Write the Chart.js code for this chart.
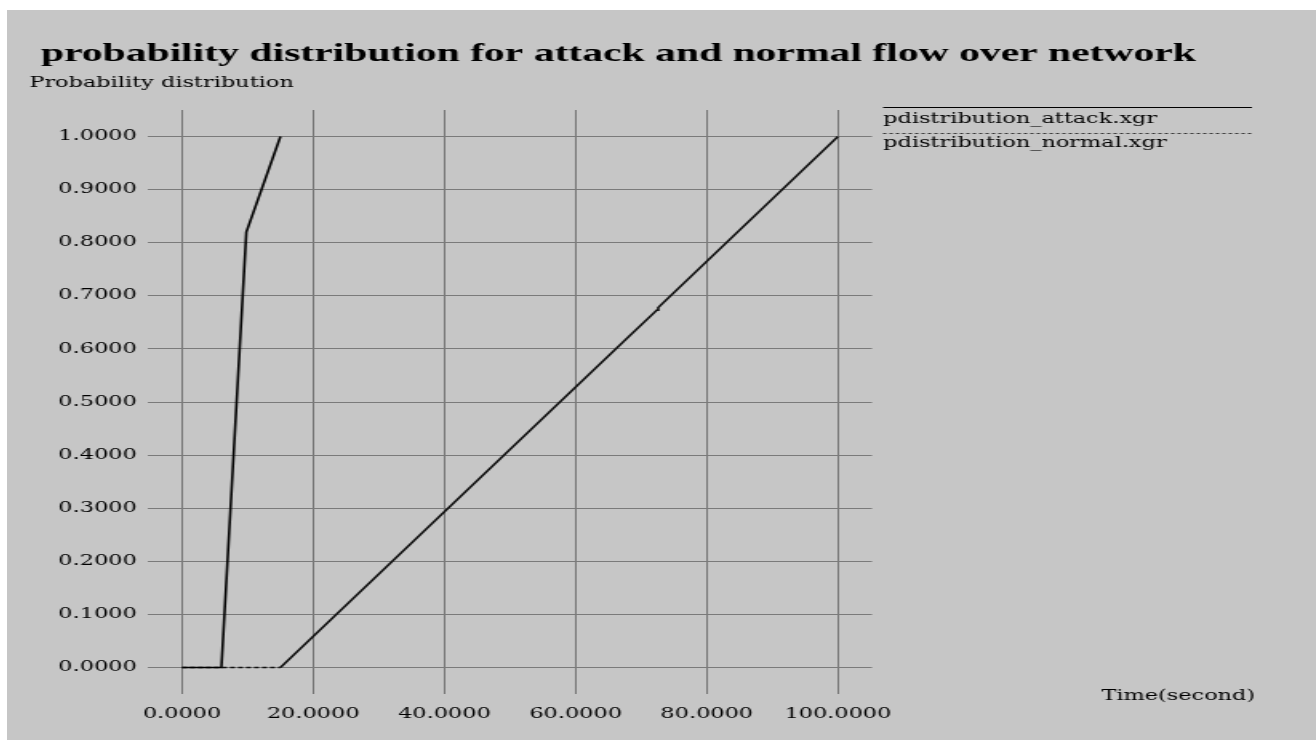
<!DOCTYPE html>
<html>
<head>
<meta charset="utf-8">
<script src="https://cdn.jsdelivr.net/npm/chart.js@4/dist/chart.umd.min.js"></script>
<style>
  html, body { margin: 0; padding: 0; background: #ffffff; width: 1316px; height: 740px; overflow: hidden; }
  #c { position: absolute; left: 7px; top: 10px; background: #c6c6c6; }
</style>
</head>
<body>
<canvas id="c" width="818" height="730" style="width:1309px;height:730px;"></canvas>
<script>
// ---- data ----
const titleText = 'probability distribution for attack and normal flow over network';
const yTitle = 'Probability distribution';
const xTitle = 'Time(second)';
const seriesLabels = ['pdistribution_attack.xgr', 'pdistribution_normal.xgr'];

const attackX = [0, 6, 9.8, 15];
const attackY = [0, 0, 0.82, 1.0];

const normalX = [0, 15, 68, 72.4, 72.6, 100];
const normalY = [0, 0, 0.622, 0.673, 0.678, 1.0];

const xTickValues = [0, 20, 40, 60, 80, 100];
const yTickValues = [0, 0.1, 0.2, 0.3, 0.4, 0.5, 0.6, 0.7, 0.8, 0.9, 1.0];

// ---- helpers ----
const toPts = (xs, ys) => xs.map((x, i) => ({ x: x, y: ys[i] }));
const smallFont = '14px "DejaVu Serif"';

const textPlugin = {
  id: 'texts',
  afterDraw(chart) {
    const ctx = chart.ctx;
    ctx.save();
    ctx.fillStyle = '#000';
    // title
    ctx.font = 'bold 26px "Liberation Serif"';
    ctx.textAlign = 'left';
    ctx.textBaseline = 'alphabetic';
    ctx.fillText(titleText, 21.2, 51);
    // y axis title
    ctx.font = smallFont;
    ctx.fillText(yTitle, 14, 77);
    // x axis title
    ctx.textAlign = 'right';
    ctx.textBaseline = 'middle';
    ctx.fillText(xTitle, 780, 686);
    // legend
    const x0 = 547.5, x1 = 778;
    const ds = chart.data.datasets;
    ctx.textAlign = 'left';
    ctx.lineWidth = 1;
    ctx.strokeStyle = '#000';
    ctx.setLineDash([]);
    ctx.beginPath(); ctx.moveTo(x0, 97.5); ctx.lineTo(x1, 97.5); ctx.stroke();
    ctx.fillText(ds[0].label, x0, 109);
    ctx.strokeStyle = '#333';
    ctx.setLineDash([2, 2]);
    ctx.beginPath(); ctx.moveTo(x0, 123.5); ctx.lineTo(x1, 123.5); ctx.stroke();
    ctx.setLineDash([]);
    ctx.fillText(ds[1].label, x0, 133);
    ctx.restore();
  }
};

new Chart(document.getElementById('c'), {
  type: 'line',
  data: {
    datasets: [
      {
        label: seriesLabels[0],
        data: toPts(attackX, attackY),
        borderColor: '#000',
        borderWidth: 1.6,
        pointRadius: 0,
        tension: 0,
        order: 0
      },
      {
        label: seriesLabels[1],
        data: toPts(normalX, normalY),
        borderColor: '#111',
        borderWidth: 1.6,
        pointRadius: 0,
        tension: 0,
        order: 1,
        segment: {
          borderDash: c => (c.p0.parsed.y === c.p1.parsed.y ? [3, 2] : undefined)
        }
      }
    ]
  },
  options: {
    responsive: false,
    animation: false,
    devicePixelRatio: 1,
    layout: { padding: { left: 0, top: 100, right: 277.4, bottom: 0 } },
    plugins: {
      legend: { display: false },
      title: { display: false },
      tooltip: { enabled: false }
    },
    scales: {
      x: {
        type: 'linear',
        min: -5.2,
        max: 105.2,
        afterBuildTicks: s => { s.ticks = xTickValues.map(v => ({ value: v })); },
        afterFit: s => { s.height = 46; },
        grid: { color: '#737373', lineWidth: 1, drawTicks: false },
        border: { display: false },
        ticks: {
          color: '#000',
          font: { family: 'DejaVu Serif', size: 14 },
          padding: 12,
          maxRotation: 0,
          autoSkip: false,
          callback: v => Number(v).toFixed(4)
        }
      },
      y: {
        type: 'linear',
        min: -0.05,
        max: 1.05,
        afterBuildTicks: s => { s.ticks = yTickValues.map(v => ({ value: v })); },
        afterFit: s => { s.width = 88.1; },
        grid: { color: '#7a7a7a', lineWidth: 1, drawTicks: false },
        border: { display: false },
        ticks: {
          color: '#000',
          font: { family: 'DejaVu Serif', size: 14 },
          padding: 7,
          autoSkip: false,
          callback: v => Number(v).toFixed(4)
        }
      }
    }
  },
  plugins: [textPlugin]
});
</script>
</body>
</html>
